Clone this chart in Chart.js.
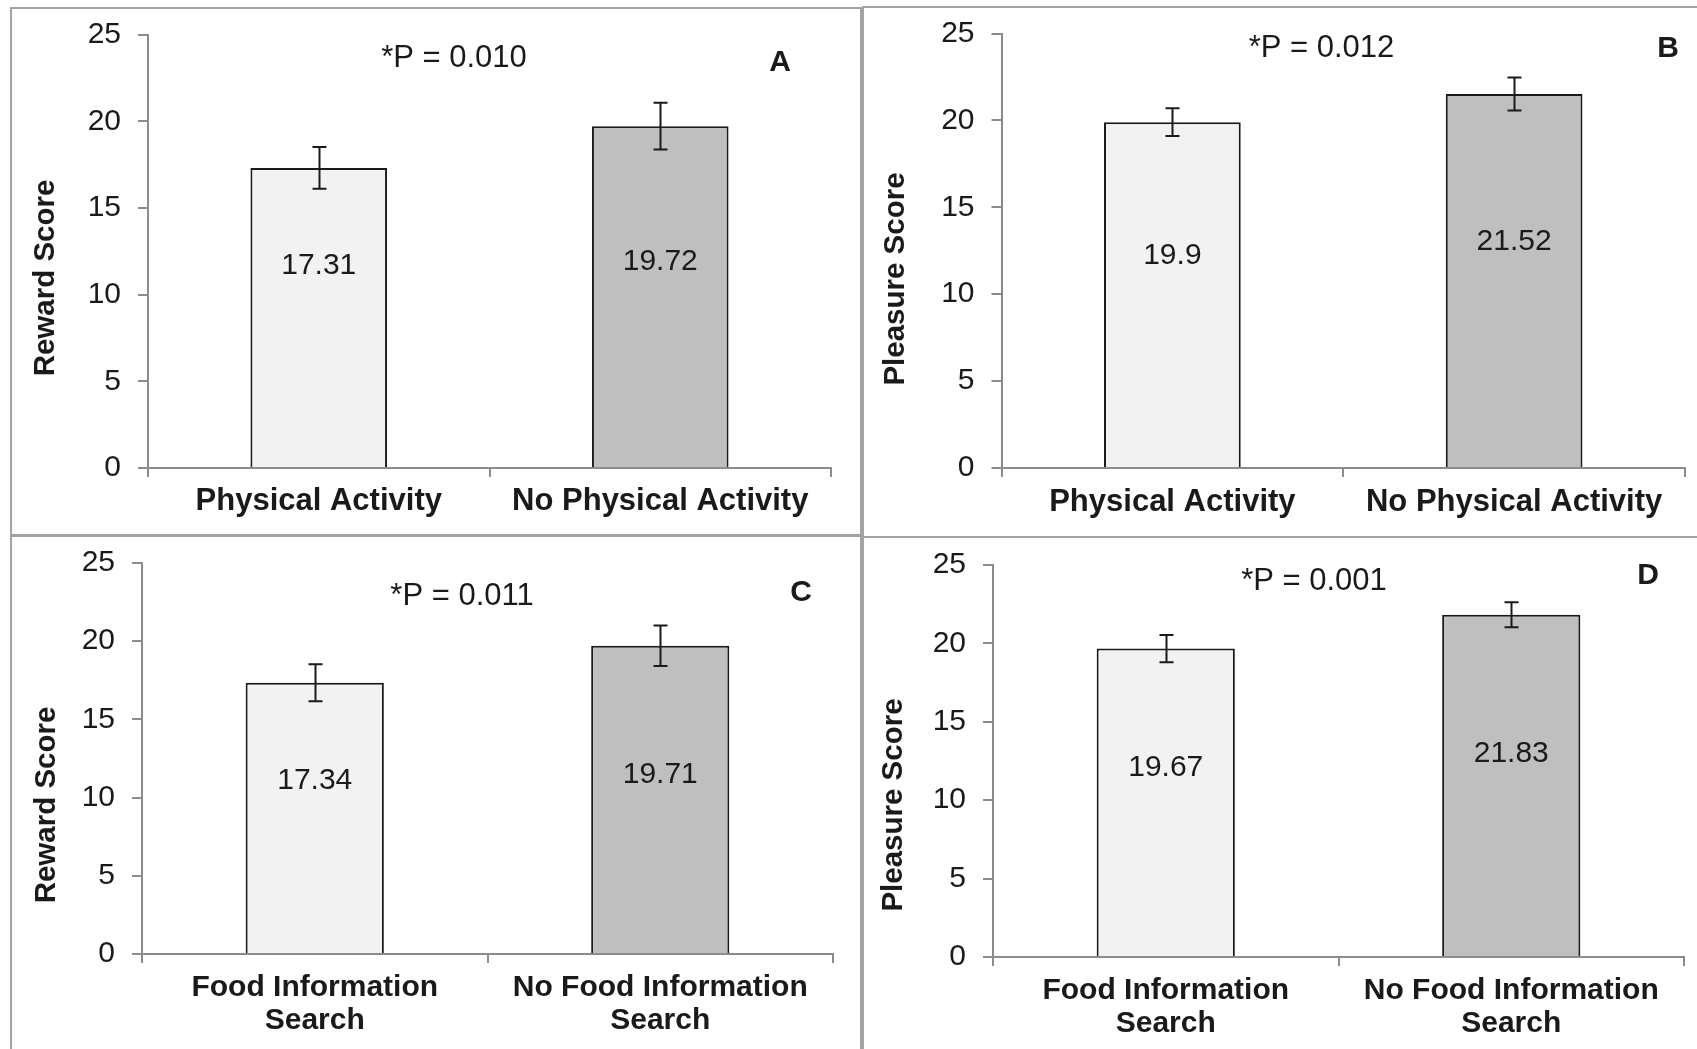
<!DOCTYPE html>
<html>
<head>
<meta charset="utf-8">
<script src="https://cdn.jsdelivr.net/npm/chart.js@4/dist/chart.umd.min.js"></script>
<style>
  html, body { margin: 0; padding: 0; background: #ffffff; overflow: hidden; }
  body { width: 1697px; height: 1049px; position: relative; }
  .frame { position: absolute; border: 2px solid #a3a3a3; box-sizing: border-box; }
  canvas { position: absolute; }
</style>
</head>
<body>
<div class="frame" style="left:10px;top:7px;width:852px;height:530px;"></div>
<div class="frame" style="left:862px;top:6px;width:860px;height:532px;"></div>
<div class="frame" style="left:10px;top:534px;width:852px;height:540px;"></div>
<div class="frame" style="left:862px;top:536px;width:860px;height:540px;"></div>

<canvas id="panelA" width="850" height="527" style="left:11px;top:8px;"></canvas>
<canvas id="panelB" width="834" height="530" style="left:863px;top:7px;"></canvas>
<canvas id="panelC" width="850" height="513" style="left:11px;top:536px;"></canvas>
<canvas id="panelD" width="834" height="512" style="left:863px;top:537px;"></canvas>

<script>
// ---- data ----
const activityGroups = ['Physical Activity', 'No Physical Activity'];
const searchGroups = [['Food Information', 'Search'], ['No Food Information', 'Search']];

const rewardByActivity = [17.31, 19.72];
const rewardByActivityErr = [1.2, 1.35];

const pleasureByActivity = [19.9, 21.52];
const pleasureByActivityErr = [0.8, 0.95];

const rewardBySearch = [17.34, 19.71];
const rewardBySearchErr = [1.18, 1.3];

const pleasureBySearch = [19.67, 21.83];
const pleasureBySearchErr = [0.87, 0.8];

const pValueLabels = ['*P = 0.010', '*P = 0.012', '*P = 0.011', '*P = 0.001'];
const panelLetters = ['A', 'B', 'C', 'D'];
const axisTitles = ['Reward Score', 'Pleasure Score', 'Reward Score', 'Pleasure Score'];
const yTickValues = [0, 5, 10, 15, 20, 25];

// ---- styling ----
const FONT = '"Liberation Sans", Arial, Helvetica, sans-serif';
const AXIS_COLOR = '#8c8c8c';
const TEXT_COLOR = '#1a1a1a';
const barFills = ['#f2f2f2', '#bfbfbf'];

// Draws error bars, in-bar value labels, p-value note, panel letter and the rotated axis title.
const panelDecor = {
  id: 'panelDecor',
  afterDatasetsDraw(chart, args, opts) {
    const ctx = chart.ctx;
    const y = chart.scales.y;
    const ds = chart.data.datasets[0];
    const meta = chart.getDatasetMeta(0);
    ctx.save();

    // error bars
    ctx.strokeStyle = TEXT_COLOR;
    ctx.lineWidth = 2;
    meta.data.forEach((bar, i) => {
      const v = ds.data[i], e = opts.errors[i];
      const yTop = y.getPixelForValue(v + e);
      const yBot = y.getPixelForValue(v - e);
      const cx = Math.round(bar.x) + 0.5;
      ctx.beginPath();
      ctx.moveTo(cx, yTop); ctx.lineTo(cx, yBot);
      ctx.moveTo(cx - 7, yTop); ctx.lineTo(cx + 7, yTop);
      ctx.moveTo(cx - 7, yBot); ctx.lineTo(cx + 7, yBot);
      ctx.stroke();
    });

    // value labels inside the bars
    ctx.fillStyle = TEXT_COLOR;
    ctx.font = '30px ' + FONT;
    ctx.textAlign = 'center';
    ctx.textBaseline = 'middle';
    meta.data.forEach((bar, i) => {
      ctx.fillText(String(ds.data[i]), bar.x, y.getPixelForValue(opts.labelLevels[i]));
    });

    // p-value note
    ctx.font = '31px ' + FONT;
    ctx.fillText(opts.pText, opts.pPos[0], opts.pPos[1]);

    // panel letter
    ctx.font = 'bold 30px ' + FONT;
    ctx.fillText(opts.letter, opts.letterPos[0], opts.letterPos[1]);

    // rotated axis title
    ctx.font = 'bold 29.5px ' + FONT;
    ctx.translate(opts.titlePos[0], opts.titlePos[1]);
    ctx.rotate(-Math.PI / 2);
    ctx.fillText(opts.title, 0, 0);

    ctx.restore();
  }
};

function makePanel(canvasId, labels, values, errors, layout, idx) {
  return new Chart(document.getElementById(canvasId), {
    type: 'bar',
    data: {
      labels: labels,
      datasets: [{
        data: values,
        backgroundColor: barFills,
        borderColor: TEXT_COLOR,
        borderWidth: 2,
        categoryPercentage: 1,
        barPercentage: 0.4
      }]
    },
    options: {
      responsive: false,
      devicePixelRatio: 1,
      animation: false,
      events: [],
      layout: { padding: { top: layout.padTop, right: layout.padRight, left: 0, bottom: 0 } },
      plugins: {
        legend: { display: false },
        tooltip: { enabled: false },
        panelDecor: {
          errors: errors,
          labelLevels: layout.labelLevels,
          pText: pValueLabels[idx],
          pPos: layout.pPos,
          letter: panelLetters[idx],
          letterPos: layout.letterPos,
          title: axisTitles[idx],
          titlePos: layout.titlePos
        }
      },
      scales: {
        x: {
          afterFit: s => { s.height = layout.xHeight; s.paddingLeft = 0; s.paddingRight = 0; },
          border: { display: true, color: AXIS_COLOR, width: 2 },
          grid: { display: true, drawOnChartArea: false, drawTicks: true, tickLength: 9, color: AXIS_COLOR, lineWidth: 2 },
          ticks: { color: TEXT_COLOR, padding: layout.xPad, maxRotation: 0, autoSkip: false,
                   font: { family: FONT, size: layout.catSize, weight: 'bold', lineHeight: 1.08 } }
        },
        y: {
          min: yTickValues[0],
          max: yTickValues[yTickValues.length - 1],
          afterFit: s => { s.width = layout.yWidth; s.paddingTop = 0; s.paddingBottom = 0; },
          afterBuildTicks: s => { s.ticks = yTickValues.map(v => ({ value: v })); },
          border: { display: true, color: AXIS_COLOR, width: 2 },
          grid: { display: true, drawOnChartArea: false, drawTicks: true, tickLength: 10, color: AXIS_COLOR, lineWidth: 2 },
          ticks: { color: TEXT_COLOR, padding: 17, font: { family: FONT, size: 30 } }
        }
      }
    },
    plugins: [panelDecor]
  });
}

makePanel('panelA', activityGroups, rewardByActivity, rewardByActivityErr, {
  yWidth: 137, xHeight: 67, padTop: 26.6, padRight: 30, catSize: 31, xPad: 8,
  labelLevels: [11.65, 11.9], pPos: [443, 50.5], letterPos: [769, 55], titlePos: [34.5, 270]
}, 0);

makePanel('panelB', activityGroups, pleasureByActivity, pleasureByActivityErr, {
  yWidth: 138.5, xHeight: 69, padTop: 26.5, padRight: 12, catSize: 31, xPad: 9,
  labelLevels: [12.2, 13.0], pPos: [458.5, 41.7], letterPos: [805, 41.7], titlePos: [33, 272]
}, 1);

makePanel('panelC', searchGroups, rewardBySearch, rewardBySearchErr, {
  yWidth: 131, xHeight: 95, padTop: 27, padRight: 28, catSize: 30, xPad: 9,
  labelLevels: [11.1, 11.45], pPos: [451, 60], letterPos: [790, 57], titlePos: [35.5, 269]
}, 2);

makePanel('panelD', searchGroups, pleasureBySearch, pleasureBySearchErr, {
  yWidth: 130, xHeight: 92, padTop: 28, padRight: 13, catSize: 30, xPad: 9,
  labelLevels: [12.1, 12.95], pPos: [451, 44], letterPos: [785, 39], titlePos: [31, 268]
}, 3);
</script>
</body>
</html>
